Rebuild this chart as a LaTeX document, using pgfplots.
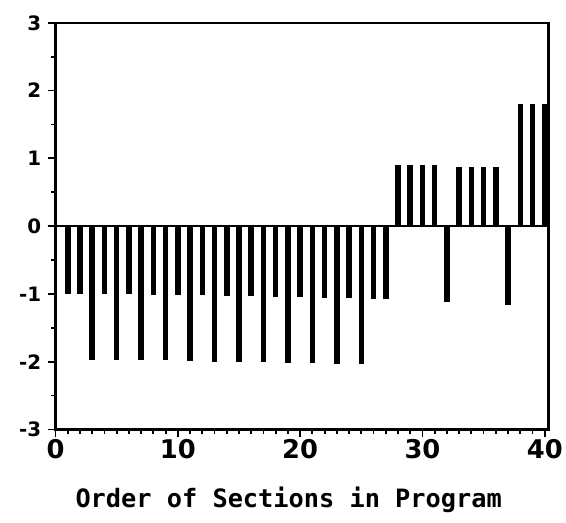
\documentclass[border=0pt]{standalone}
\usepackage{fontspec}
\setmainfont{DejaVu Sans}
\newfontfamily\labelfont{DejaVu Sans Mono}
\usepackage{pgfplots}
\usepackage{pgfplotstable}
\pgfplotsset{compat=1.18}
\pgfplotstableread{
x y
1 -1.00
2 -1.00
3 -1.97
4 -1.00
5 -1.97
6 -1.00
7 -1.98
8 -1.01
9 -1.98
10 -1.02
11 -1.99
12 -1.02
13 -2.00
14 -1.03
15 -2.00
16 -1.03
17 -2.01
18 -1.04
19 -2.02
20 -1.05
21 -2.02
22 -1.06
23 -2.03
24 -1.06
25 -2.04
26 -1.07
27 -1.08
28 0.90
29 0.90
30 0.90
31 0.90
32 -1.12
33 0.87
34 0.87
35 0.87
36 0.87
37 -1.17
38 1.80
39 1.80
40 1.80
}\datatable
\begin{document}
\begin{tikzpicture}
\begin{axis}[
  at={(0,0)}, anchor=south west,
  scale only axis, width=497pt, height=410pt,
  xmin=0, xmax=40.3, ymin=-3, ymax=3,
  clip=false,
  axis line style={line width=2.2pt},
  xtick={0,10,20,30,40}, minor x tick num=9,
  ytick={-3,-2,-1,0,1,2,3}, minor y tick num=1,
  xtick pos=bottom, ytick pos=left,
  tick align=outside,
  major tick length=8pt, minor tick length=4.5pt,
  every tick/.style={black, line width=1.8pt},
  /pgf/number format/assume math mode=true,
  xticklabel style={font=\fontsize{26}{26}\selectfont\bfseries, yshift=2pt},
  yticklabel style={font=\fontsize{20}{20}\selectfont\bfseries, xshift=-3pt},
  xlabel={Order of Sections in Program},
  xlabel style={font=\labelfont\bfseries\fontsize{25.5}{25.5}\selectfont, anchor=base, at={(axis description cs:0.473,0)}, yshift=-79pt},
]
\addplot[black, line width=2.5pt] coordinates {(0,0) (40.3,0)};
\addplot[ycomb, black, line width=5.6pt] table[x=x, y=y] {\datatable};
\end{axis}
\path[use as bounding box] (-56pt,-94pt) rectangle (510pt,433pt);
\end{tikzpicture}
\end{document}
